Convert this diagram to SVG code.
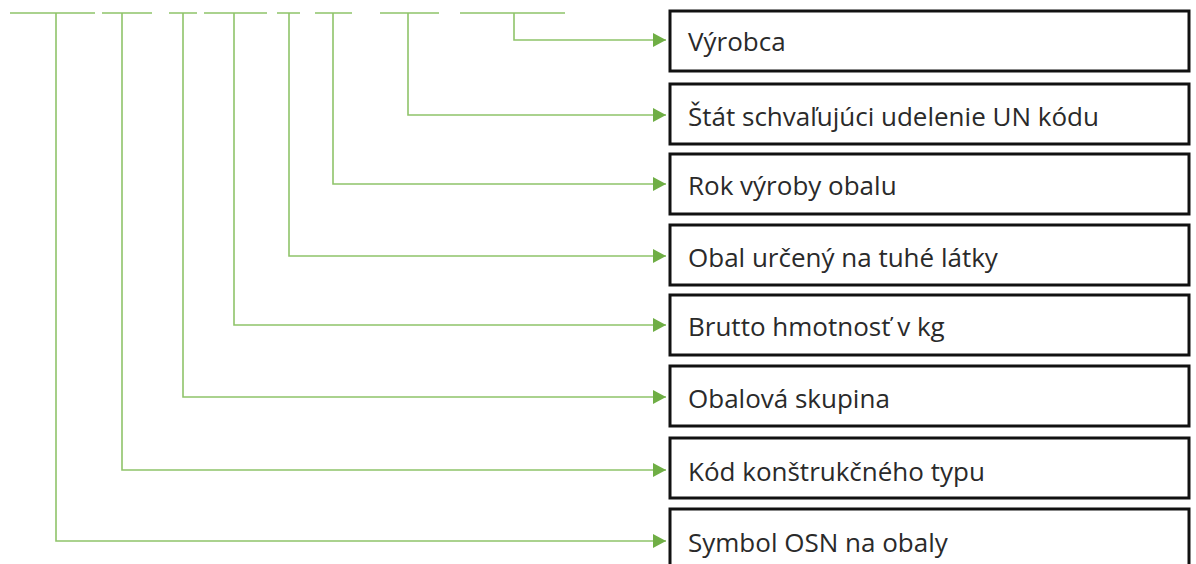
<svg xmlns="http://www.w3.org/2000/svg" width="1196" height="564" viewBox="0 0 1196 564">
<defs>
<style>
.ln{fill:none;stroke:#8fc46a;stroke-width:1.6}
.bx{fill:#fff;stroke:#111;stroke-width:3}
.tx{font-family:"Open Sans","Liberation Sans",sans-serif;font-size:26px;fill:#2a2a2a}
</style>
<marker id="ah" markerWidth="14" markerHeight="14" refX="13" refY="7" orient="auto" markerUnits="userSpaceOnUse">
<path d="M0,0 L13,7 L0,14 Z" fill="#6fae45"/>
</marker>
</defs>
<rect width="1196" height="564" fill="#fff"/>
<g id="connectors">
<path class="ln" d="M10,13 H95 M102,13 H152 M169,13 H197 M204,13 H267 M277,13 H300 M315,13 H352 M380,13 H439 M460,13 H565"/>
<path class="ln" d="M514,13 V40 H666" marker-end="url(#ah)"/>
<path class="ln" d="M408,13 V115 H666" marker-end="url(#ah)"/>
<path class="ln" d="M333,13 V184 H666" marker-end="url(#ah)"/>
<path class="ln" d="M289,13 V256 H666" marker-end="url(#ah)"/>
<path class="ln" d="M234,13 V325 H666" marker-end="url(#ah)"/>
<path class="ln" d="M183,13 V397 H666" marker-end="url(#ah)"/>
<path class="ln" d="M122,13 V470 H666" marker-end="url(#ah)"/>
<path class="ln" d="M56,13 V541 H666" marker-end="url(#ah)"/>
</g>
<g id="n1"><rect class="bx" x="670" y="11" width="519" height="60"/><text class="tx" x="688" y="51">Výrobca</text></g>
<g id="n2"><rect class="bx" x="670" y="84" width="519" height="60"/><text class="tx" x="688" y="126">Štát schvaľujúci udelenie UN kódu</text></g>
<g id="n3"><rect class="bx" x="670" y="154" width="519" height="60"/><text class="tx" x="688" y="195">Rok výroby obalu</text></g>
<g id="n4"><rect class="bx" x="670" y="225" width="519" height="60"/><text class="tx" x="688" y="267">Obal určený na tuhé látky</text></g>
<g id="n5"><rect class="bx" x="670" y="295" width="519" height="60"/><text class="tx" x="688" y="336">Brutto hmotnosť v kg</text></g>
<g id="n6"><rect class="bx" x="670" y="366" width="519" height="60"/><text class="tx" x="688" y="408">Obalová skupina</text></g>
<g id="n7"><rect class="bx" x="670" y="438" width="519" height="60"/><text class="tx" x="688" y="481">Kód konštrukčného typu</text></g>
<g id="n8"><rect class="bx" x="670" y="509" width="519" height="60"/><text class="tx" x="688" y="552">Symbol OSN na obaly</text></g>
</svg>
